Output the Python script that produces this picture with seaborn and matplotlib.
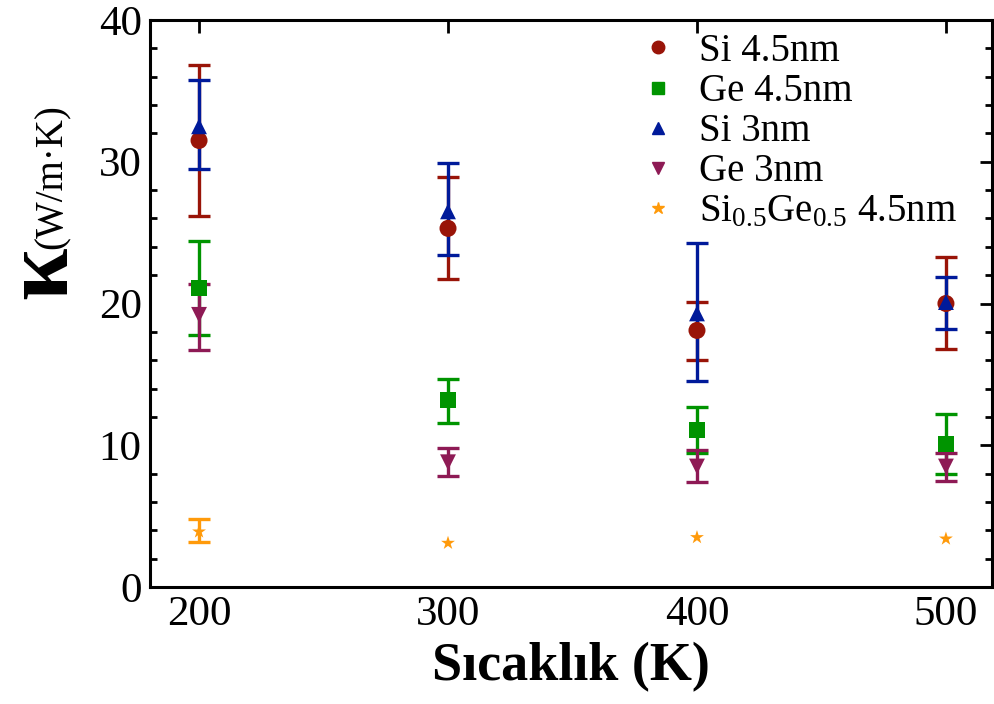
import numpy as np
import pandas as pd
import matplotlib
matplotlib.use("Agg")
import matplotlib.pyplot as plt
from matplotlib.ticker import MultipleLocator
import seaborn as sns

# ---- data ----
temps = [200, 300, 400, 500]
series_names = ["Si 4.5nm", "Ge 4.5nm", "Si 3nm", "Ge 3nm", r"Si$_{0.5}$Ge$_{0.5}$ 4.5nm"]

si45_val = [31.5, 25.3, 18.1, 20.0]
si45_hi = [36.8, 28.9, 20.1, 23.3]
si45_lo = [26.2, 21.7, 16.0, 16.8]

ge45_val = [21.1, 13.2, 11.1, 10.1]
ge45_hi = [24.4, 14.7, 12.7, 12.2]
ge45_lo = [17.8, 11.6, 9.45, 8.0]

si3_val = [32.5, 26.5, 19.3, 20.1]
si3_hi = [35.8, 29.9, 24.3, 21.9]
si3_lo = [29.5, 23.4, 14.5, 18.2]

ge3_val = [19.2, 8.8, 8.5, 8.5]
ge3_hi = [21.4, 9.8, 9.7, 9.45]
ge3_lo = [16.7, 7.8, 7.4, 7.5]

sige_val = [3.9, 3.1, 3.5, 3.4]
sige_hi = [4.8, 3.1, 3.5, 3.4]
sige_lo = [3.2, 3.1, 3.5, 3.4]

vals = [si45_val, ge45_val, si3_val, ge3_val, sige_val]
his = [si45_hi, ge45_hi, si3_hi, ge3_hi, sige_hi]
los = [si45_lo, ge45_lo, si3_lo, ge3_lo, sige_lo]

colors = ["#991408", "#009400", "#001A9A", "#8E1A55", "#FF9A0A"]
markers = ["o", "s", "^", "v", "*"]
msizes = [150, 130, 130, 130, 110]

rows = []
for name, v in zip(series_names, vals):
    for t, y in zip(temps, v):
        rows.append({"T": t, "k": y, "series": name})
df = pd.DataFrame(rows)

sns.set_style("white")
plt.rcParams["font.family"] = ["Liberation Serif", "DejaVu Serif"]
plt.rcParams["mathtext.fontset"] = "custom"
plt.rcParams["mathtext.rm"] = "Liberation Serif"
plt.rcParams["mathtext.it"] = "Liberation Serif"
plt.rcParams["mathtext.bf"] = "Liberation Serif:bold"
for key in ["text.color", "axes.labelcolor", "xtick.color", "ytick.color", "axes.edgecolor"]:
    plt.rcParams[key] = "black"

fig = plt.figure(figsize=(9.95, 7.04), dpi=100)
ax = fig.add_axes([150 / 995, 1 - 587 / 704, (992 - 150) / 995, (587 - 20) / 704])

# error bars
for name, v, hi, lo, c in zip(series_names, vals, his, los, colors):
    v = np.array(v); hi = np.array(hi); lo = np.array(lo)
    yerr = np.vstack([v - lo, hi - v])
    has = (yerr.sum(axis=0) > 0)
    if has.any():
        ax.errorbar(np.array(temps)[has], v[has], yerr=yerr[:, has], fmt="none",
                    ecolor=c, elinewidth=2.4, capsize=8, capthick=2.4, zorder=2)

sns.scatterplot(data=df, x="T", y="k", hue="series", style="series",
                hue_order=series_names, style_order=series_names,
                palette=dict(zip(series_names, colors)),
                markers=dict(zip(series_names, markers)),
                size="series", sizes=dict(zip(series_names, msizes)),
                linewidth=0, ax=ax, zorder=3, legend=False)

# legend (markers only)
handles = [plt.Line2D([], [], linestyle="none", marker=m, color=c, markersize=s)
           for m, c, s in zip(markers, colors, [9, 8.5, 8.5, 8.5, 9])]
leg = ax.legend(handles, series_names, loc="upper right", bbox_to_anchor=(0.99, 1.025),
                frameon=False, fontsize=28, handletextpad=0.55, labelspacing=0.08,
                borderaxespad=0.3, handlelength=1.0)

ax.set_xlim(180.3, 518.5)
ax.set_ylim(0, 40)
ax.set_xticks(temps)
ax.set_yticks([0, 10, 20, 30, 40])
ax.yaxis.set_minor_locator(MultipleLocator(2))
ax.tick_params(axis="both", which="major", direction="in", length=9, width=2,
               labelsize=31, top=True, right=True, pad=6, color="black",
               labelcolor="black")
ax.tick_params(axis="y", which="minor", direction="in", length=5, width=2,
               left=True, right=True)
for sp in ax.spines.values():
    sp.set_linewidth(2.2)
    sp.set_color("black")

ax.set_xlabel("Sıcaklık (K)", fontsize=39, fontweight="bold", labelpad=6, color="black")
ax.set_ylabel("")
fig.text(45 / 995, 1 - 274 / 704, r"$\mathbf{κ}$", rotation=90, fontsize=68,
         ha="center", va="center", color="black")
fig.text(52 / 995, 1 - 177 / 704, "(W/m·K)", rotation=90, fontsize=28,
         ha="center", va="center", color="black")

fig.savefig("out.png", dpi=100)
